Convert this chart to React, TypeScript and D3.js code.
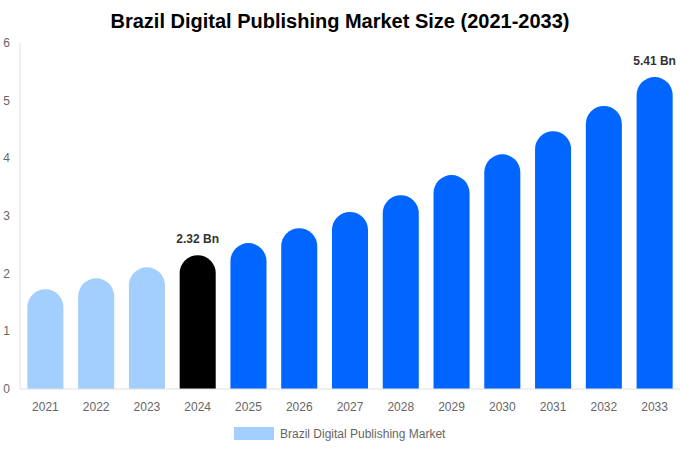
import { useRef, useEffect } from "react";
import * as d3 from "d3";

// chart data
const years = ["2021", "2022", "2023", "2024", "2025", "2026", "2027", "2028", "2029", "2030", "2031", "2032", "2033"];
const marketSize = [1.73, 1.92, 2.11, 2.32, 2.53, 2.79, 3.07, 3.36, 3.71, 4.07, 4.47, 4.91, 5.41];
const yTicks = [0, 1, 2, 3, 4, 5, 6];
const labelledYears = ["2024", "2033"];

const title = "Brazil Digital Publishing Market Size (2021-2033)";
const legendLabel = "Brazil Digital Publishing Market";

const App = () => {
  const svgRef = useRef<SVGSVGElement | null>(null);

  useEffect(() => {
    const width = 680;
    const height = 450;
    const margin = { top: 43, right: 0, bottom: 61, left: 20 };

    const svg = d3.select(svgRef.current);
    svg.selectAll("*").remove();
    svg.attr("width", width).attr("height", height).style("font-family", "Liberation Sans, Arial, sans-serif");

    const x = d3.scaleBand<string>()
      .domain(years)
      .range([margin.left, width - margin.right])
      .paddingInner(0.29)
      .paddingOuter(0.145);

    const y = d3.scaleLinear()
      .domain([0, 6])
      .range([height - margin.bottom, margin.top]);

    // title
    svg.append("text")
      .attr("x", width / 2)
      .attr("y", 28)
      .attr("text-anchor", "middle")
      .attr("font-size", 20)
      .attr("font-weight", "bold")
      .attr("fill", "#000")
      .text(title);

    // y axis line
    svg.append("line")
      .attr("x1", margin.left).attr("x2", margin.left)
      .attr("y1", y(6)).attr("y2", y(0))
      .attr("stroke", "#e0e0e0");

    // y tick labels
    svg.selectAll(".ytick")
      .data(yTicks)
      .join("text")
      .attr("class", "ytick")
      .attr("x", 10)
      .attr("y", d => y(d) + 4)
      .attr("text-anchor", "end")
      .attr("font-size", 12)
      .attr("fill", "#666")
      .text(d => d);

    const bw = x.bandwidth();
    const r = bw / 2;

    // bars with rounded tops
    svg.selectAll(".bar")
      .data(marketSize)
      .join("path")
      .attr("class", "bar")
      .attr("d", (d, i) => {
        const x0 = x(years[i]) as number;
        const top = y(d);
        const base = y(0);
        return `M${x0},${base} L${x0},${top + r} A${r},${r} 0 0 1 ${x0 + bw},${top + r} L${x0 + bw},${base} Z`;
      })
      .attr("fill", (_, i) => {
        const yr = +years[i];
        if (yr < 2024) return "#a3cfff";
        if (yr === 2024) return "#000000";
        return "#0066ff";
      });

    // x axis baseline
    svg.append("line")
      .attr("x1", margin.left).attr("x2", width - margin.right)
      .attr("y1", y(0)).attr("y2", y(0))
      .attr("stroke", "#e0e0e0");

    // x labels
    svg.selectAll(".xtick")
      .data(years)
      .join("text")
      .attr("class", "xtick")
      .attr("x", d => (x(d) as number) + bw / 2)
      .attr("y", y(0) + 22)
      .attr("text-anchor", "middle")
      .attr("font-size", 12)
      .attr("fill", "#666")
      .text(d => d);

    // value labels
    svg.selectAll(".vlabel")
      .data(years.filter(yr => labelledYears.includes(yr)))
      .join("text")
      .attr("class", "vlabel")
      .attr("x", d => (x(d) as number) + bw / 2)
      .attr("y", d => y(marketSize[years.indexOf(d)]) - 12)
      .attr("text-anchor", "middle")
      .attr("font-size", 12)
      .attr("font-weight", "bold")
      .attr("fill", "#333")
      .text(d => `${marketSize[years.indexOf(d)].toFixed(2)} Bn`);

    // legend
    svg.append("rect")
      .attr("x", 234).attr("y", 427)
      .attr("width", 40).attr("height", 13)
      .attr("fill", "#a3cfff");
    svg.append("text")
      .attr("x", 280).attr("y", 437.5)
      .attr("font-size", 12)
      .attr("fill", "#666")
      .text(legendLabel);
  }, []);

  return (
    <div style={{ position: "absolute", left: 0, top: 0 }}>
      <svg ref={svgRef} />
    </div>
  );
};

export default App;
